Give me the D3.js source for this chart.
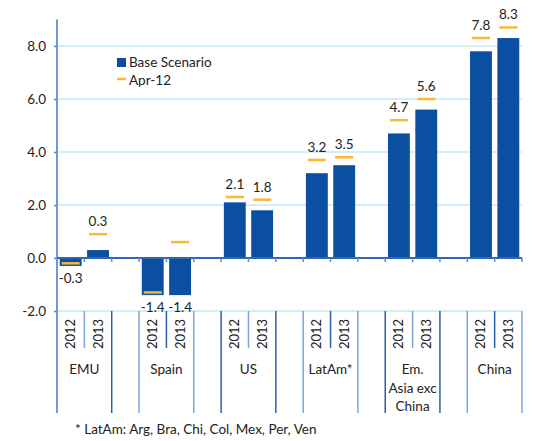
<!DOCTYPE html>
<html>
<head>
<meta charset="utf-8">
<script src="https://cdn.jsdelivr.net/npm/d3@7"></script>
<style>
  body { margin: 0; background: #fff; }
  text { font-family: Lato, "Open Sans", sans-serif; fill: #222; }
</style>
</head>
<body>
<div id="chart"></div>
<script>
// Data
const groups = ["EMU", "Spain", "US", "LatAm*", "Em. Asia exc China", "China"];
const groupLines = [["EMU"], ["Spain"], ["US"], ["LatAm*"], ["Em.", "Asia exc", "China"], ["China"]];
const years = ["2012", "2013"];
const baseScenario = [-0.3, 0.3, -1.4, -1.4, 2.1, 1.8, 3.2, 3.5, 4.7, 5.6, 7.8, 8.3];
const apr12 = [-0.2, 0.9, -1.3, 0.6, 2.3, 2.2, 3.7, 3.8, 5.2, 6.0, 8.3, 8.7];
const yTicks = [-2, 0, 2, 4, 6, 8];
const footnote = "* LatAm: Arg, Bra, Chi, Col, Mex, Per, Ven";

const width = 549, height = 441;
const plotLeft = 57, plotRight = 522, plotTop = 19.5, bottomAxis = 311, bottomCat = 413;

const blue = "#0b4fa3", orange = "#fdb833";
const grid = "#c6e7f6", axisBlue = "#4f84cc";

// plain hyphen for negatives, like the original
const fmt = d3.formatLocale({ decimal: ".", thousands: ",", grouping: [3], currency: ["", ""], minus: "-" }).format(".1f");

// slot list: two years per group plus an empty gap between groups
const slots = [];
const rows = [];
groups.forEach((g, gi) => {
  years.forEach((yr, yi) => {
    const key = g + "|" + yr;
    slots.push(key);
    rows.push({ key, group: g, year: yr, base: baseScenario[gi * 2 + yi], apr: apr12[gi * 2 + yi] });
  });
  if (gi < groups.length - 1) slots.push("gap" + gi);
});

const x = d3.scaleBand().domain(slots).range([plotLeft, plotRight]).padding(0);
const y = d3.scaleLinear().domain([-2, 9]).range([bottomAxis, plotTop]);
const bw = x.bandwidth();
const barW = bw * 0.8;
const markW = bw * 0.66;

const svg = d3.select("#chart").append("svg")
  .attr("width", width).attr("height", height);

// gridlines (the -2 one doubles as the top of the category area)
svg.selectAll(".grid")
  .data(yTicks.filter(d => d !== 0))
  .enter().append("line")
  .attr("x1", plotLeft).attr("x2", plotRight)
  .attr("y1", d => y(d)).attr("y2", d => y(d))
  .attr("stroke", grid).attr("stroke-width", 1.5);

// y axis
const yAxis = d3.axisLeft(y).tickValues(yTicks).tickFormat(fmt)
  .tickSize(3).tickPadding(8);
const ya = svg.append("g").attr("transform", `translate(${plotLeft},0)`).call(yAxis);
ya.select(".domain").remove();
ya.selectAll(".tick line").attr("stroke", axisBlue).attr("stroke-width", 1.5);
ya.selectAll(".tick text").style("font-size", "13.5px").attr("fill", "#222")
  .style("font-family", "Lato, sans-serif");
svg.append("line")
  .attr("x1", plotLeft).attr("x2", plotLeft).attr("y1", plotTop).attr("y2", bottomCat)
  .attr("stroke", "#6e9ad8").attr("stroke-width", 2);

// bars
svg.selectAll(".bar")
  .data(rows)
  .enter().append("rect")
  .attr("x", d => x(d.key) + (bw - barW) / 2)
  .attr("width", barW)
  .attr("y", d => Math.min(y(d.base), y(0)))
  .attr("height", d => Math.abs(y(d.base) - y(0)))
  .attr("fill", blue);

// zero line with ticks at slot boundaries
svg.append("line")
  .attr("x1", plotLeft).attr("x2", plotRight).attr("y1", y(0)).attr("y2", y(0))
  .attr("stroke", "#2f66b8").attr("stroke-width", 2);
const bounds = slots.map(s => x(s)).concat([plotRight]).slice(1);
svg.selectAll(".ztick")
  .data(bounds)
  .enter().append("line")
  .attr("x1", d => d).attr("x2", d => d)
  .attr("y1", y(0)).attr("y2", y(0) + 4)
  .attr("stroke", "#5a8bd0").attr("stroke-width", 1.5);

// Apr-12 markers
svg.selectAll(".mark")
  .data(rows)
  .enter().append("line")
  .attr("x1", d => x(d.key) + (bw - markW) / 2)
  .attr("x2", d => x(d.key) + (bw + markW) / 2)
  .attr("y1", d => y(d.apr)).attr("y2", d => y(d.apr))
  .attr("stroke", orange).attr("stroke-width", 2.5);

// category axis: separator lines
const sep = [];
slots.forEach((s, i) => {
  const xr = x(s) + bw;
  const next = slots[i + 1];
  const within = !s.startsWith("gap") && next && !next.startsWith("gap") &&
    s.split("|")[0] === next.split("|")[0];
  sep.push({ x: xr, short: within });
});
svg.selectAll(".sep")
  .data(sep)
  .enter().append("line")
  .attr("x1", d => d.x).attr("x2", d => d.x)
  .attr("y1", bottomAxis).attr("y2", d => d.short ? 348 : bottomCat)
  .attr("stroke", (d, i) => i % 2 ? "#2a5fae" : "#7aa5dc").attr("stroke-width", 1.5);

// value labels
svg.selectAll(".val")
  .data(rows)
  .enter().append("text")
  .attr("x", d => x(d.key) + bw / 2)
  .attr("y", d => d.base >= 0
    ? Math.min(y(d.base), y(d.apr)) - 8
    : Math.max(y(d.base), y(d.apr)) + 17)
  .attr("text-anchor", "middle")
  .style("font-size", "13.5px")
  .text(d => fmt(d.base));

// year labels
svg.selectAll(".yr")
  .data(rows)
  .enter().append("text")
  .attr("transform", d => `translate(${x(d.key) + bw / 2 + 4.5},349) rotate(-90)`)
  .attr("text-anchor", "start")
  .style("font-size", "13px")
  .text(d => d.year);

// group labels
groups.forEach((g, gi) => {
  const cx = x(g + "|2013");
  const t = svg.append("text").attr("text-anchor", "middle").style("font-size", "13.5px");
  groupLines[gi].forEach((line, li) => {
    t.append("tspan").attr("x", cx).attr("y", 374 + li * 18.5).text(line);
  });
});

// legend
svg.append("rect").attr("x", 117).attr("y", 58).attr("width", 9).attr("height", 9).attr("fill", blue);
svg.append("text").attr("x", 129).attr("y", 67).style("font-size", "13.5px").text("Base Scenario");
svg.append("line").attr("x1", 117).attr("x2", 126).attr("y1", 79).attr("y2", 79)
  .attr("stroke", orange).attr("stroke-width", 2.5);
svg.append("text").attr("x", 129).attr("y", 85).style("font-size", "13.5px").text("Apr-12");

// footnote
svg.append("text").attr("x", 75).attr("y", 434).style("font-size", "13.5px").text(footnote);
</script>
</body>
</html>
